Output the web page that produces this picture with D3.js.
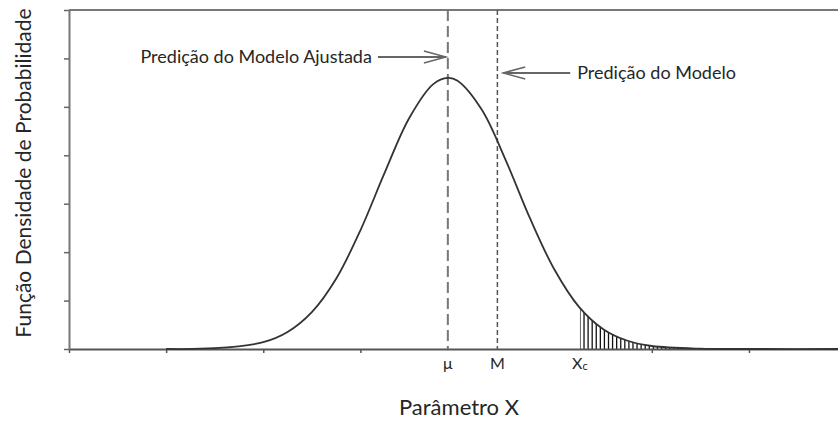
<!DOCTYPE html>
<html>
<head>
<meta charset="utf-8">
<script src="https://cdn.jsdelivr.net/npm/d3@7"></script>
<style>
  body { margin: 0; background: #fff; }
  text { font-family: Lato, "Open Sans", sans-serif; fill: #262626; }
</style>
</head>
<body>
<div id="chart"></div>
<script>
// curve: x in tick units, density in y-tick units
var curveX = [1.0, 1.5, 2.0, 2.25, 2.5, 2.75, 3.0, 3.25, 3.5, 3.75, 3.9, 4.0, 4.25, 4.5, 4.75, 5.0, 5.25, 5.5, 5.75, 6.0, 6.5, 7.0, 8.0]
var curveY = [0.001, 0.016, 0.14, 0.35, 0.76, 1.45, 2.45, 3.64, 4.76, 5.47, 5.6, 5.54, 4.94, 3.88, 2.68, 1.63, 0.87, 0.41, 0.17, 0.062, 0.006, 0, 0]

var xTicks = [0, 1, 2, 3, 6, 7]
var yTicks = [0, 1, 2, 3, 4, 5, 6, 7]

var markNames = ["μ", "M", "Xc"]
var markValues = [3.9, 4.41, 5.26]

var noteTexts = ["Predição do Modelo Ajustada", "Predição do Modelo"]
var noteY = [6.03, 5.70]
var noteFrom = [3.18, 5.16]
var noteTo = [3.88, 4.47]

var w = 838
var h = 423

var data = curveX.map(function(d, i){ return {x: d, y: curveY[i]} })

var svg = d3.select("#chart").append("svg").attr("width", w).attr("height", h)

var x = d3.scaleLinear().domain([0, 8]).range([69, 846.1])
var y = d3.scaleLinear().domain([0, 7]).range([349, 10])

// shaded tail
var tail = data.filter(function(d){ return d.x >= markValues[2] })
var atXc = {x: markValues[2], y: 0.87 + (markValues[2] - 5.25) / 0.25 * (0.41 - 0.87)}
tail.unshift(atXc)

var area = d3.area()
    .x(function(d){ return x(d.x) })
    .y0(y(0))
    .y1(function(d){ return y(d.y) })
    .curve(d3.curveCatmullRom)

svg.append("clipPath").attr("id", "tailclip")
    .append("path").attr("d", area(tail))

svg.append("g").attr("clip-path", "url(#tailclip)")
    .selectAll("line")
    .data(d3.range(markValues[2], 6.6, 0.042))
    .enter()
    .append("line")
    .attr("x1", function(d){ return x(d) })
    .attr("x2", function(d){ return x(d) })
    .attr("y1", y(0))
    .attr("y2", y(3))
    .attr("stroke", "#111")
    .attr("stroke-width", 1.3)

// axes
svg.append("g")
    .attr("transform", "translate(0," + y(0) + ")")
    .call(d3.axisBottom(x).tickValues(xTicks).tickSize(4).tickSizeOuter(0).tickFormat(""))
    .call(function(g){
        g.select(".domain").attr("stroke", "#555").attr("stroke-width", 2)
        g.selectAll(".tick line").attr("stroke", "#555").attr("stroke-width", 1.5)
    })

svg.append("g")
    .attr("transform", "translate(" + x(0) + ",0)")
    .call(d3.axisLeft(y).tickValues(yTicks).tickSize(5).tickSizeOuter(0).tickFormat(""))
    .call(function(g){
        g.select(".domain").attr("stroke", "#777").attr("stroke-width", 2)
        g.selectAll(".tick line").attr("stroke", "#666").attr("stroke-width", 1.5)
    })

svg.append("line")
    .attr("x1", x(0)).attr("x2", x(8))
    .attr("y1", y(7)).attr("y2", y(7))
    .attr("stroke", "#777").attr("stroke-width", 2)

// dashed marker lines
svg.append("line")
    .attr("x1", x(markValues[0])).attr("x2", x(markValues[0]))
    .attr("y1", y(7)).attr("y2", y(0))
    .attr("stroke", "#777").attr("stroke-width", 2)
    .attr("stroke-dasharray", "11,5")

svg.append("line")
    .attr("x1", x(markValues[1])).attr("x2", x(markValues[1]))
    .attr("y1", y(7)).attr("y2", y(0))
    .attr("stroke", "#555").attr("stroke-width", 1.5)
    .attr("stroke-dasharray", "5,3")

// density curve
var line = d3.line()
    .x(function(d){ return x(d.x) })
    .y(function(d){ return y(d.y) })
    .curve(d3.curveCatmullRom)

svg.append("path")
    .attr("d", line(data))
    .attr("fill", "none")
    .attr("stroke", "#333")
    .attr("stroke-width", 1.8)

// tick labels
markNames.forEach(function(name, i){
    var t = svg.append("text")
        .attr("x", x(markValues[i]))
        .attr("y", 369)
        .attr("text-anchor", "middle")
        .style("font-size", "16px")
    if (name == "Xc") {
        t.append("tspan").text("X")
        t.append("tspan").text("c").style("font-size", "11px").attr("dy", 1)
    } else {
        t.text(name)
    }
})

// annotations with open arrows
noteTexts.forEach(function(txt, i){
    var x1 = x(noteFrom[i]), x2 = x(noteTo[i]), yy = y(noteY[i])
    var dir = x2 > x1 ? 1 : -1
    svg.append("line")
        .attr("x1", x1).attr("x2", x2).attr("y1", yy).attr("y2", yy)
        .attr("stroke", "#666").attr("stroke-width", 2)
    svg.append("path")
        .attr("d", "M" + (x2 - dir * 22) + "," + (yy - 6) + "L" + x2 + "," + yy + "L" + (x2 - dir * 22) + "," + (yy + 6))
        .attr("fill", "none").attr("stroke", "#666").attr("stroke-width", 1.5)
    svg.append("text")
        .attr("x", dir > 0 ? x1 - 6 : x1 + 7)
        .attr("y", yy + 6)
        .attr("text-anchor", dir > 0 ? "end" : "start")
        .style("font-size", "18px")
        .text(txt)
})

// axis titles
svg.append("text")
    .attr("x", 459).attr("y", 415)
    .attr("text-anchor", "middle")
    .style("font-size", "22px")
    .text("Parâmetro X")

svg.append("text")
    .attr("transform", "translate(31,173) rotate(-90)")
    .attr("text-anchor", "middle")
    .style("font-size", "21px")
    .text("Função Densidade de Probabilidade")
</script>
</body>
</html>
